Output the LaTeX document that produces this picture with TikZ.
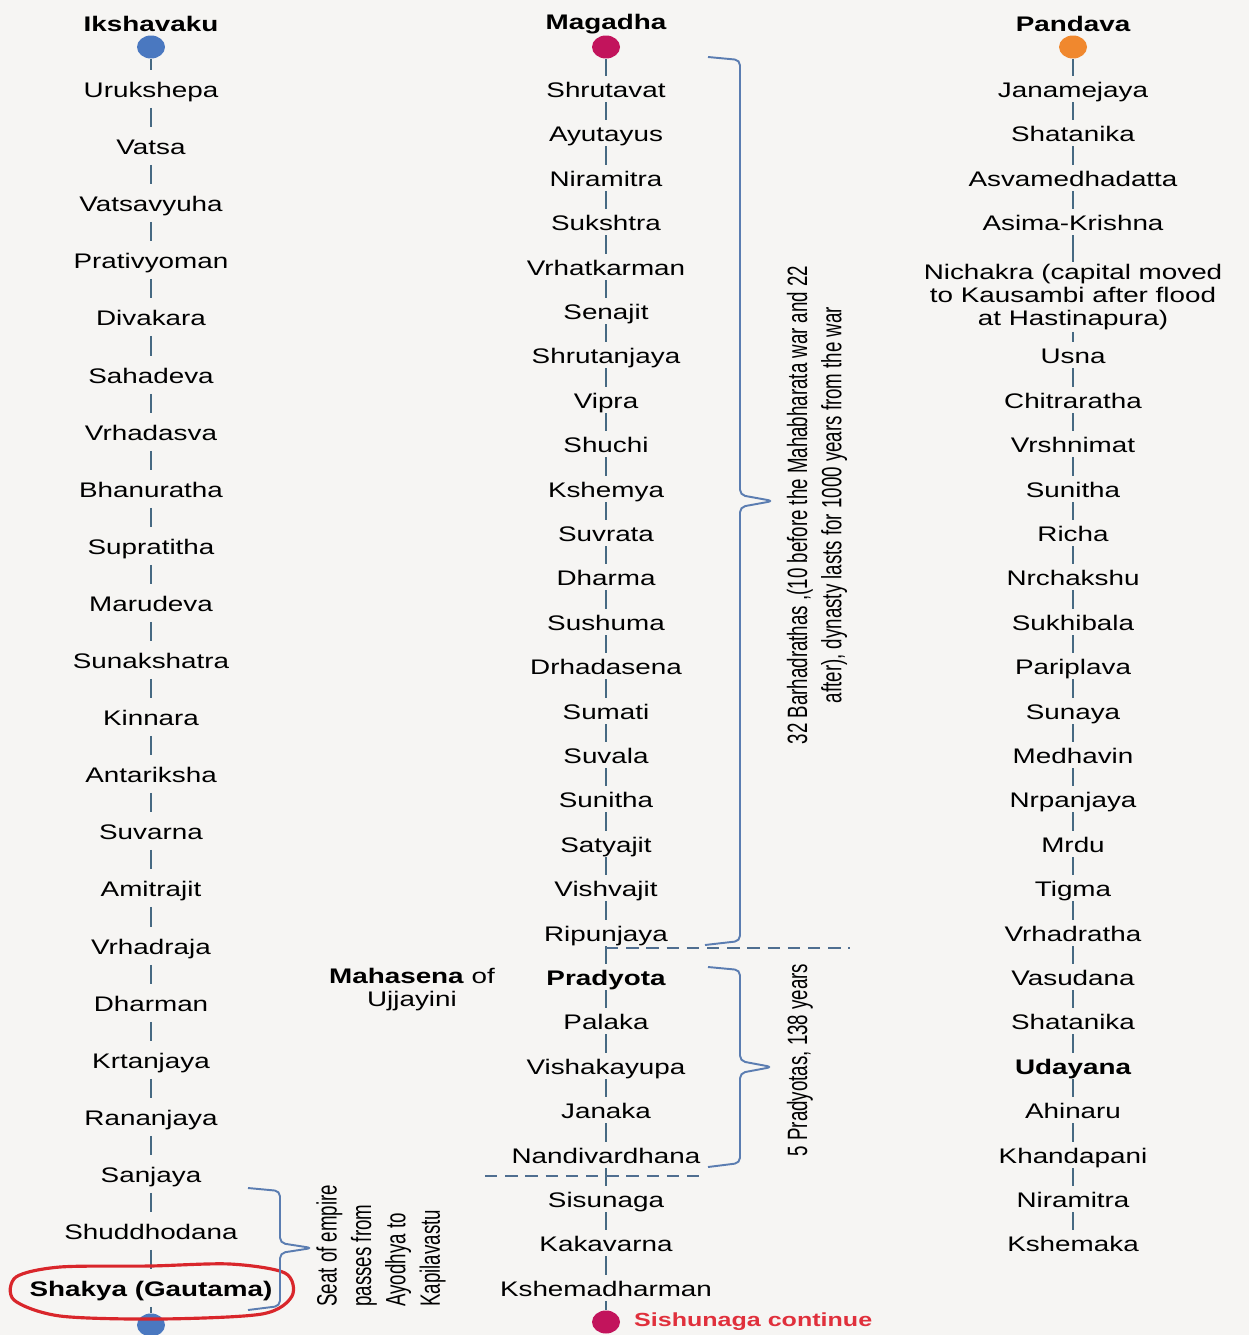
\documentclass[tikz,border=0pt]{standalone}
\usepackage{fontspec}
\setmainfont{Liberation Sans}[FakeStretch=1.32]
\newfontfamily\narrowfont{Liberation Sans}[FakeStretch=0.67]
\usepackage{tikz}
\usetikzlibrary{shapes.geometric}
\definecolor{bg}{HTML}{F6F5F3}
\definecolor{linkcol}{HTML}{466982}
\definecolor{bracecol}{HTML}{5B7DB1}
\definecolor{dashcol}{HTML}{4F6E90}
\definecolor{ikshcol}{HTML}{4A78C0}
\definecolor{magcol}{HTML}{C2145C}
\definecolor{pancol}{HTML}{F0882E}
\definecolor{ringcol}{HTML}{D9262B}
\definecolor{contcol}{HTML}{E0303C}

\begin{document}
\begin{tikzpicture}[x=0.02cm,y=-0.02cm,font=\fontsize{12}{13.1}\selectfont,
	king/.style={inner xsep=2pt,text height=11.5pt,text depth=1.5pt},
	ikking/.style={king,inner ysep=4pt},
	mgking/.style={king,inner ysep=0.9pt},
	head/.style={font=\fontsize{12}{13.1}\selectfont\bfseries},
	dot/.style={ellipse,minimum width=0.56cm,minimum height=0.46cm,inner sep=0pt},
	link/.style={draw=linkcol,line width=1.2pt},
	bracket/.style={draw=bracecol,line width=1.1pt,rounded corners=3pt},
	sep/.style={draw=dashcol,line width=1.1pt,dash pattern=on 7pt off 4.5pt},
	ring/.style={draw=ringcol,line width=1.8pt},
	note/.style={rotate=90,font=\narrowfont\fontsize{15.9}{19.6}\selectfont,inner sep=0pt}]
	\useasboundingbox (0,0) rectangle (1249,1335);
	\fill[bg] (0,0) rectangle (1249,1335);
	% Ikshavaku
	\node[head] (ikshavaku) at (151,24) {Ikshavaku};
	\node[dot,fill=ikshcol] (idot) at (151,47) {};
	\node[ikking] (urukshepa) at (151,89) {Urukshepa};
	\node[ikking] (vatsa) at (151,146) {Vatsa};
	\node[ikking] (vatsavyuha) at (151,203) {Vatsavyuha};
	\node[ikking] (prativyoman) at (151,260) {Prativyoman};
	\node[ikking] (divakara) at (151,317) {Divakara};
	\node[ikking] (sahadeva) at (151,375) {Sahadeva};
	\node[ikking] (vrhadasva) at (151,432) {Vrhadasva};
	\node[ikking] (bhanuratha) at (151,489) {Bhanuratha};
	\node[ikking] (supratitha) at (151,546) {Supratitha};
	\node[ikking] (marudeva) at (151,603) {Marudeva};
	\node[ikking] (sunakshatra) at (151,660) {Sunakshatra};
	\node[ikking] (kinnara) at (151,717) {Kinnara};
	\node[ikking] (antariksha) at (151,774) {Antariksha};
	\node[ikking] (suvarna) at (151,831) {Suvarna};
	\node[ikking] (amitrajit) at (151,888) {Amitrajit};
	\node[ikking] (vrhadraja) at (151,946) {Vrhadraja};
	\node[ikking] (dharman) at (151,1003) {Dharman};
	\node[ikking] (krtanjaya) at (151,1060) {Krtanjaya};
	\node[ikking] (rananjaya) at (151,1117) {Rananjaya};
	\node[ikking] (sanjaya) at (151,1174) {Sanjaya};
	\node[ikking] (shuddhodana) at (151,1231) {Shuddhodana};
	\node[ikking,head] (shakya) at (151,1288) {Shakya (Gautama)};
	\node[dot,fill=ikshcol] (iend) at (151,1325) {};
	\draw[link] (idot) -- (urukshepa) -- (vatsa) -- (vatsavyuha) -- (prativyoman) -- (divakara) -- (sahadeva) -- (vrhadasva) -- (bhanuratha) -- (supratitha) -- (marudeva) -- (sunakshatra);
	\draw[link] (sunakshatra) -- (kinnara) -- (antariksha) -- (suvarna) -- (amitrajit) -- (vrhadraja) -- (dharman) -- (krtanjaya) -- (rananjaya) -- (sanjaya) -- (shuddhodana) -- (shakya) -- (iend);
	\draw[ring] plot[smooth cycle] coordinates {(150,1266) (60,1267) (16,1277) (14,1300) (60,1316) (160,1319) (262,1314) (292,1296) (285,1273) (230,1264)};
	\draw[bracket] (248,1188) -- (280,1191) -- (280,1243) -- (312,1248) -- (280,1253) -- (280,1306) -- (248,1310);
	\node[note,align=left,anchor=west] (seat) at (381,1307) {Seat of empire\\passes from\\Ayodhya to\\Kapilavastu};
	% Magadha
	\node[head] (magadha) at (606,24) {Magadha};
	\node[dot,fill=magcol] (mdot) at (606,47) {};
	\node[mgking] (shrutavat) at (606,89) {Shrutavat};
	\node[mgking] (ayutayus) at (606,133) {Ayutayus};
	\node[mgking] (niramitra m) at (606,178) {Niramitra};
	\node[mgking] (sukshtra) at (606,222) {Sukshtra};
	\node[mgking] (vrhatkarman) at (606,267) {Vrhatkarman};
	\node[mgking] (senajit) at (606,311) {Senajit};
	\node[mgking] (shrutanjaya) at (606,355) {Shrutanjaya};
	\node[mgking] (vipra) at (606,400) {Vipra};
	\node[mgking] (shuchi) at (606,444) {Shuchi};
	\node[mgking] (kshemya) at (606,489) {Kshemya};
	\node[mgking] (suvrata) at (606,533) {Suvrata};
	\node[mgking] (dharma) at (606,577) {Dharma};
	\node[mgking] (sushuma) at (606,622) {Sushuma};
	\node[mgking] (drhadasena) at (606,666) {Drhadasena};
	\node[mgking] (sumati) at (606,711) {Sumati};
	\node[mgking] (suvala) at (606,755) {Suvala};
	\node[mgking] (sunitha m) at (606,799) {Sunitha};
	\node[mgking] (satyajit) at (606,844) {Satyajit};
	\node[mgking] (vishvajit) at (606,888) {Vishvajit};
	\node[mgking] (ripunjaya) at (606,933) {Ripunjaya};
	\node[mgking,head] (pradyota) at (606,977) {Pradyota};
	\node[mgking] (palaka) at (606,1021) {Palaka};
	\node[mgking] (vishakayupa) at (606,1066) {Vishakayupa};
	\node[mgking] (janaka) at (606,1110) {Janaka};
	\node[mgking] (nandivardhana) at (606,1155) {Nandivardhana};
	\node[mgking] (sisunaga) at (606,1199) {Sisunaga};
	\node[mgking] (kakavarna) at (606,1243) {Kakavarna};
	\node[mgking] (kshemadharman) at (606,1288) {Kshemadharman};
	\node[dot,fill=magcol] (mend) at (606,1322) {};
	\node[anchor=west,text=contcol,font=\fontsize{10.8}{12}\selectfont\bfseries] (continue) at (628,1322) {Sishunaga continue};
	\draw[link] (mdot) -- (shrutavat) -- (ayutayus) -- (niramitra m) -- (sukshtra) -- (vrhatkarman) -- (senajit) -- (shrutanjaya) -- (vipra) -- (shuchi) -- (kshemya) -- (suvrata) -- (dharma) -- (sushuma) -- (drhadasena);
	\draw[link] (drhadasena) -- (sumati) -- (suvala) -- (sunitha m) -- (satyajit) -- (vishvajit) -- (ripunjaya) -- (pradyota) -- (palaka) -- (vishakayupa) -- (janaka) -- (nandivardhana) -- (sisunaga) -- (kakavarna) -- (kshemadharman) -- (mend);
	\node[align=center] (mahasena) at (412,990) {\textbf{Mahasena} of\\Ujjayini};
	\draw[sep] (606,948) -- (850,948);
	\draw[sep] (485,1176) -- (700,1176);
	\draw[bracket] (708,57) -- (740,60) -- (740,495) -- (773,501) -- (740,507) -- (740,941) -- (705,945);
	\node[note,align=center] (barhadrathas) at (817,505) {32 Barhadrathas ,(10 before the Mahabharata war and 22\\after), dynasty lasts for 1000 years from the war};
	\draw[bracket] (708,967) -- (740,970) -- (740,1061) -- (772,1067) -- (740,1073) -- (740,1163) -- (708,1167);
	\node[note] (pradyotas) at (800,1060) {5 Pradyotas, 138 years};
	% Pandava
	\node[head] (pandava) at (1073,24) {Pandava};
	\node[dot,fill=pancol] (pdot) at (1073,47) {};
	\node[mgking] (janamejaya) at (1073,89) {Janamejaya};
	\node[mgking] (shatanika) at (1073,133) {Shatanika};
	\node[mgking] (asvamedhadatta) at (1073,178) {Asvamedhadatta};
	\node[mgking] (asima) at (1073,222) {Asima-Krishna};
	\node[align=center,inner sep=1pt] (nichakra) at (1073,297) {Nichakra (capital moved\\to Kausambi after flood\\at Hastinapura)};
	\node[mgking] (usna) at (1073,355) {Usna};
	\node[mgking] (chitraratha) at (1073,400) {Chitraratha};
	\node[mgking] (vrshnimat) at (1073,444) {Vrshnimat};
	\node[mgking] (sunitha p) at (1073,489) {Sunitha};
	\node[mgking] (richa) at (1073,533) {Richa};
	\node[mgking] (nrchakshu) at (1073,577) {Nrchakshu};
	\node[mgking] (sukhibala) at (1073,622) {Sukhibala};
	\node[mgking] (pariplava) at (1073,666) {Pariplava};
	\node[mgking] (sunaya) at (1073,711) {Sunaya};
	\node[mgking] (medhavin) at (1073,755) {Medhavin};
	\node[mgking] (nrpanjaya) at (1073,799) {Nrpanjaya};
	\node[mgking] (mrdu) at (1073,844) {Mrdu};
	\node[mgking] (tigma) at (1073,888) {Tigma};
	\node[mgking] (vrhadratha) at (1073,933) {Vrhadratha};
	\node[mgking] (vasudana) at (1073,977) {Vasudana};
	\node[mgking] (shatanika 2) at (1073,1021) {Shatanika};
	\node[mgking,head] (udayana) at (1073,1066) {Udayana};
	\node[mgking] (ahinaru) at (1073,1110) {Ahinaru};
	\node[mgking] (khandapani) at (1073,1155) {Khandapani};
	\node[mgking] (niramitra p) at (1073,1199) {Niramitra};
	\node[mgking] (kshemaka) at (1073,1243) {Kshemaka};
	\draw[link] (pdot) -- (janamejaya) -- (shatanika) -- (asvamedhadatta) -- (asima) -- (nichakra) -- (usna) -- (chitraratha) -- (vrshnimat) -- (sunitha p) -- (richa) -- (nrchakshu) -- (sukhibala) -- (pariplava);
	\draw[link] (pariplava) -- (sunaya) -- (medhavin) -- (nrpanjaya) -- (mrdu) -- (tigma) -- (vrhadratha) -- (vasudana) -- (shatanika 2) -- (udayana) -- (ahinaru) -- (khandapani) -- (niramitra p) -- (kshemaka);
\end{tikzpicture}
\end{document}
